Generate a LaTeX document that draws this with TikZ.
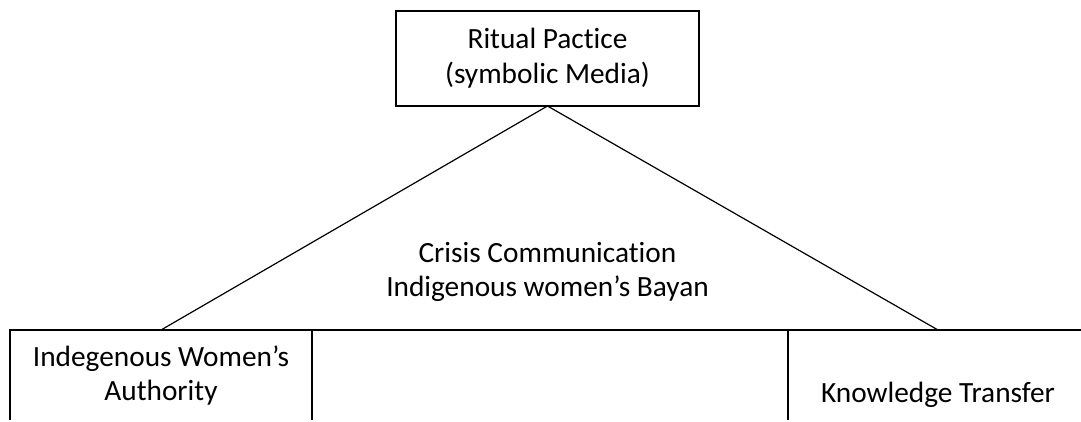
\documentclass[tikz,border=0pt]{standalone}
\usepackage{fontspec}
\setmainfont{Carlito}[Ligatures=NoCommon]
\usetikzlibrary{positioning}

\begin{document}
\begin{tikzpicture}[%
    x=0.75pt, y=-0.75pt,
    line width=0.9pt,
    font=\fontsize{22}{26}\selectfont,
    box/.style={draw, align=center, inner sep=0pt, outer sep=0pt},
  ]
    \useasboundingbox (0,0) rectangle (1081,421);
    \clip (0,0) rectangle (1081,419);

    \node[box, minimum width=227.25pt, minimum height=71.25pt] (ritual) at (547.5,58.5) {Ritual Pactice\\(symbolic Media)};
    \node[box, anchor=north west, minimum width=226.5pt, minimum height=68.25pt] (authority) at (10,330) {Indegenous Women’s\\Authority};
    \node[box, anchor=north west, minimum width=225pt, minimum height=68.25pt] (transfer) at (788,330) {\strut\\Knowledge Transfer};
    \node[align=center] (crisis) at (547.5,272) {Crisis Communication\\Indigenous women’s Bayan};

    \path
    (ritual.south) edge (authority.north)
    (ritual.south) edge (transfer.north)
    (authority.north east) edge (transfer.north west)
    ;
  \end{tikzpicture}
\end{document}
